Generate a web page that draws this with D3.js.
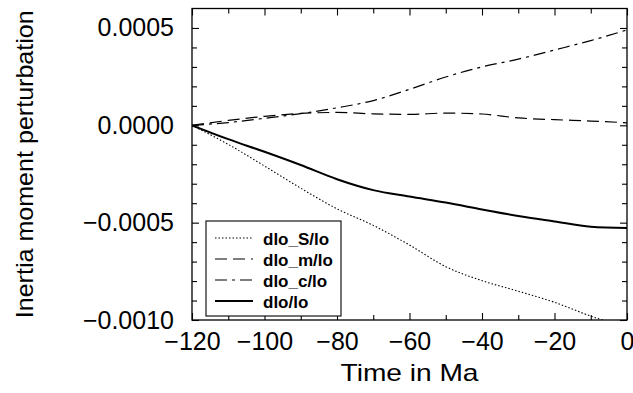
<!DOCTYPE html>
<html>
<head>
<meta charset="utf-8">
<script src="https://cdn.jsdelivr.net/npm/d3@7"></script>
<style>
  body { margin: 0; background: #fff; }
  text { font-family: "Liberation Sans", Arial, Helvetica, sans-serif; fill: #000; }
</style>
</head>
<body>
<div id="chart"></div>
<script>
// values
const timeMa = [-120, -110, -100, -90, -80, -70, -60, -50, -40, -30, -20, -10, 0];
const dIoS = [0, -0.000098, -0.000209, -0.000323, -0.000429, -0.000514, -0.000615, -0.000726, -0.000798, -0.000852, -0.000909, -0.000980, -0.00104];
const dIoM = [0, 0.000025, 0.000046, 0.000061, 0.000066, 0.000059, 0.000056, 0.000063, 0.000058, 0.000038, 0.000029, 0.000022, 0.000013];
const dIoC = [0, 0.000014, 0.000036, 0.000060, 0.000090, 0.000127, 0.000185, 0.000248, 0.000300, 0.000340, 0.000387, 0.000435, 0.000490];
const dIo = [0, -0.000071, -0.000136, -0.000204, -0.000277, -0.000333, -0.000366, -0.000397, -0.000432, -0.000466, -0.000494, -0.000521, -0.000528];
const seriesNames = ['dlo_S/lo', 'dlo_m/lo', 'dlo_c/lo', 'dlo/lo'];
const xTickLabels = [-120, -100, -80, -60, -40, -20, 0];
const xMinorTicks = [-110, -90, -70, -50, -30, -10];
const yTickLabels = [-0.001, -0.0005, 0, 0.0005];
const yMinorTicks = [-0.0009, -0.0008, -0.0007, -0.0006, -0.0004, -0.0003, -0.0002, -0.0001, 0.0001, 0.0002, 0.0003, 0.0004];

const width = 633;
const height = 393;
const margin = { top: 8.5, right: 6, bottom: 73, left: 192 };
const innerW = width - margin.left - margin.right;
const innerH = height - margin.top - margin.bottom;

const seriesStyle = [
  { dash: '1.5,2', w: 1.1 },
  { dash: '12,6', w: 1.2 },
  { dash: '12,5,3,5', w: 1.2 },
  { dash: null, w: 2 }
];
const seriesValues = [dIoS, dIoM, dIoC, dIo];

const svg = d3.select('#chart')
  .append('svg')
  .attr('width', width)
  .attr('height', height);

const g = svg.append('g')
  .attr('transform', `translate(${margin.left},${margin.top})`);

const x = d3.scaleLinear().domain([-120, 0]).range([0, innerW]);
const y = d3.scaleLinear().domain([-0.001, 0.0006]).range([innerH, 0]);

g.append('clipPath').attr('id', 'plotClip')
  .append('rect').attr('width', innerW).attr('height', innerH);

// ticks on all four sides, pointing inward
function addAxis(axisFn, scale, values, size, fmt, transform, pad) {
  const ax = g.append('g')
    .attr('transform', transform)
    .call(axisFn(scale).tickValues(values).tickSize(-size).tickPadding(pad).tickFormat(fmt));
  ax.select('.domain').remove();
  ax.selectAll('line').attr('stroke', '#000').attr('stroke-width', 1.1);
  ax.selectAll('text').attr('font-size', '25px');
  return ax;
}
const none = () => '';
addAxis(d3.axisBottom, x, xTickLabels, 7, d3.format('d'), `translate(0,${innerH})`, 12);
addAxis(d3.axisBottom, x, xMinorTicks, 5, none, `translate(0,${innerH})`, 12);
addAxis(d3.axisTop, x, xTickLabels, 7, none, 'translate(0,0)', 3);
addAxis(d3.axisTop, x, xMinorTicks, 5, none, 'translate(0,0)', 3);
addAxis(d3.axisLeft, y, yTickLabels, 7, d3.format('.4f'), 'translate(0,0)', 18);
addAxis(d3.axisLeft, y, yMinorTicks, 5, none, 'translate(0,0)', 18);
addAxis(d3.axisRight, y, yTickLabels, 7, none, `translate(${innerW},0)`, 3);
addAxis(d3.axisRight, y, yMinorTicks, 5, none, `translate(${innerW},0)`, 3);

g.append('rect')
  .attr('width', innerW)
  .attr('height', innerH)
  .attr('fill', 'none')
  .attr('stroke', '#000')
  .attr('stroke-width', 1.3);

const line = d3.line()
  .x((d, i) => x(timeMa[i]))
  .y(d => y(d))
  .curve(d3.curveMonotoneX);

g.append('g')
  .attr('clip-path', 'url(#plotClip)')
  .selectAll('path')
  .data(seriesValues)
  .enter()
  .append('path')
  .attr('d', line)
  .attr('fill', 'none')
  .attr('stroke', '#000')
  .attr('stroke-width', (d, i) => seriesStyle[i].w)
  .attr('stroke-dasharray', (d, i) => seriesStyle[i].dash);

// legend
const legend = g.append('g').attr('transform', 'translate(14,212.5)');
legend.append('rect')
  .attr('width', 135)
  .attr('height', 95)
  .attr('fill', '#fff')
  .attr('stroke', '#000')
  .attr('stroke-width', 1.1);

const rows = legend.selectAll('.row')
  .data(seriesNames)
  .enter()
  .append('g')
  .attr('transform', (d, i) => `translate(0,${17 + i * 21})`);

rows.append('line')
  .attr('x1', 9).attr('x2', 47)
  .attr('stroke', '#000')
  .attr('stroke-width', (d, i) => seriesStyle[i].w)
  .attr('stroke-dasharray', (d, i) => seriesStyle[i].dash);

rows.append('text')
  .attr('x', 57)
  .attr('y', 6.5)
  .attr('font-size', '17px')
  .attr('font-weight', 'bold')
  .text(d => d);

// axis titles
svg.append('text')
  .attr('x', margin.left + innerW / 2)
  .attr('y', 381)
  .attr('text-anchor', 'middle')
  .attr('font-size', '24px')
  .attr('textLength', 138)
  .attr('lengthAdjust', 'spacingAndGlyphs')
  .text('Time in Ma');

svg.append('text')
  .attr('transform', `translate(33,${margin.top + innerH / 2}) rotate(-90)`)
  .attr('text-anchor', 'middle')
  .attr('font-size', '24px')
  .attr('textLength', 308)
  .attr('lengthAdjust', 'spacingAndGlyphs')
  .text('Inertia moment perturbation');
</script>
</body>
</html>
